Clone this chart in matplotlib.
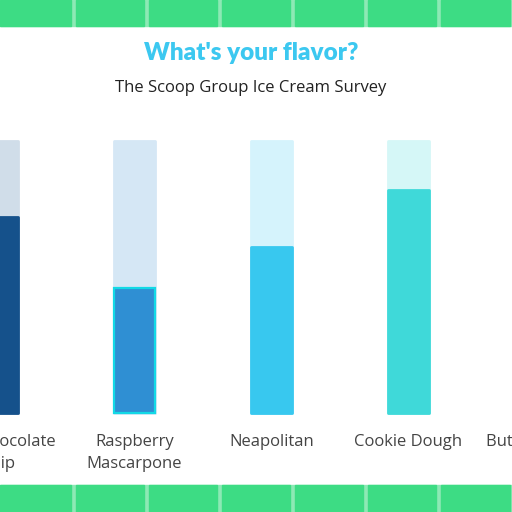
import numpy as np
import matplotlib.pyplot as plt
from matplotlib.patches import Rectangle

# datos
sabores = ["Mint Chocolate\nChip", "Raspberry\nMascarpone", "Neapolitan",
           "Cookie Dough", "Buttered Pecan"]
votos = [72, 46, 61, 82, 55]
maximo = [100, 100, 100, 100, 100]

col_valor = ["#15518b", "#2f8fd3", "#38c8ef", "#3fd9d9", "#3fd9b0"]
col_fondo = ["#d0dde9", "#d5e7f5", "#d5f3fc", "#d5f7f7", "#d5f7ee"]

verde = "#3ddc84"
verde_claro = "#8de9b5"

fig = plt.figure(figsize=(5.12, 5.12), dpi=100)
fig.patch.set_facecolor("white")
ax = fig.add_axes([0, 0, 1, 1])
ax.set_axis_off()

# escala: 137 px por categoria, 2.72 px por voto
px_x = 137.0
px_y = 2.72
x0 = 2.5 / px_x
ax.set_xlim(x0, x0 + 512 / px_x)
ax.set_ylim(-99 / px_y, (512 - 99) / px_y)

x = np.arange(len(sabores))

# barras de fondo (100%)
ax.bar(x, maximo, width=0.295, color=col_fondo, edgecolor=col_fondo,
       linewidth=2, joinstyle="round", zorder=1)

# barras de votos
for i in range(len(sabores)):
    if i == 1:
        ax.bar(x[i], votos[i], width=0.305, color=col_valor[i],
               edgecolor="#13d9e6", linewidth=1.6, zorder=2)
    else:
        ax.bar(x[i], votos[i], width=0.295, color=col_valor[i],
               edgecolor=col_valor[i], linewidth=2, joinstyle="round",
               zorder=2)

# etiquetas
for xi, s in zip(x, sabores):
    ax.text(xi, -7.8, s, ha="center", va="top", fontsize=12,
            family="Open Sans", color="#444444", linespacing=1.5)

# titulo
fig.text(0.49, 1 - 53 / 512, "What's your flavor?", ha="center", va="center",
         fontsize=17.5, fontweight="heavy", family="Lato", color="#3cc8f0")
fig.text(0.49, 1 - 88 / 512, "The Scoop Group Ice Cream Survey", ha="center",
         va="center", fontsize=12, family="Open Sans", color="#222222")

# bandas verdes arriba y abajo
periodo = 512 / 7
for y_ini, alto in [(512 - 26, 26), (0, 27)]:
    fig.patches.append(Rectangle((0, y_ini / 512), 1, alto / 512,
                                 transform=fig.transFigure,
                                 color=verde_claro, zorder=0))
    for k in range(8):
        izq = k * periodo + 2.5
        der = (k + 1) * periodo - 2.5
        if k == 0:
            izq = 0
        fig.patches.append(Rectangle((izq / 512, y_ini / 512),
                                     (der - izq) / 512, alto / 512,
                                     transform=fig.transFigure,
                                     color=verde, zorder=0))

fig.savefig("out.png", dpi=100)
